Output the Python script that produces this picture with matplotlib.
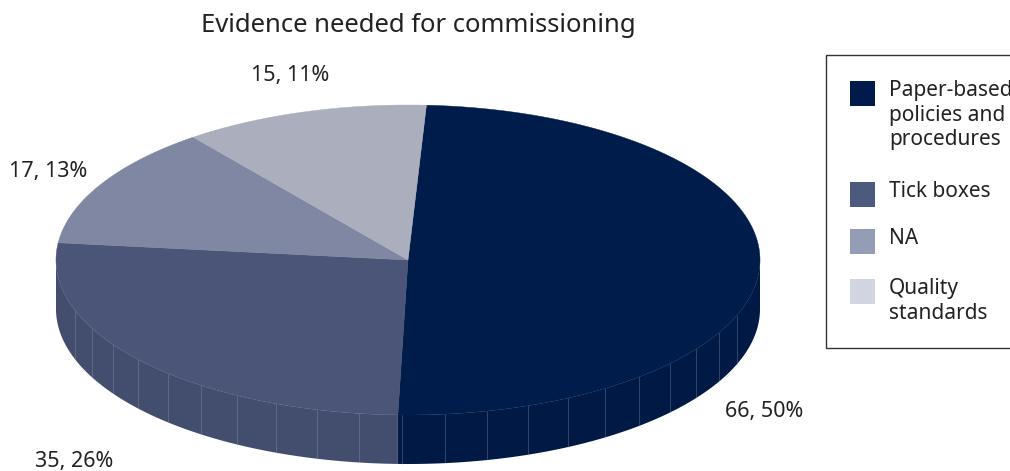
import matplotlib.pyplot as plt
import numpy as np
from matplotlib.patches import Polygon, Rectangle

plt.rcParams['font.family'] = ['Noto Sans', 'DejaVu Sans']

# data
categories = ['Paper-based\npolicies and\nprocedures', 'Tick boxes', 'NA', 'Quality\nstandards']
counts = [66, 35, 17, 15]
percents = [50, 26, 13, 11]
top_colors = ['#001C4B', '#4A5577', '#7F87A3', '#ABAEBD']
side_colors = ['#001A45', '#434D6E', '#737A96', '#9C9FAE']
legend_colors = ['#001A4B', '#4B5A7E', '#959CB6', '#D1D5E1']

# layout (pixel coords)
cx, cy = 408, 260
rx, ry = 352, 155
depth = 49
start_angle = 87.0
label_pos = [(764, 412), (74, 461), (48, 172), (290, 75)]

fig = plt.figure(figsize=(10.10, 4.71), dpi=100)
ax = fig.add_axes([0, 0, 1, 1])
ax.set_xlim(0, 1010)
ax.set_ylim(471, 0)
ax.axis('off')


def pt(a, dy=0.0):
    r = np.radians(a)
    return cx + rx * np.cos(r), cy - ry * np.sin(r) + dy


total = sum(counts)
bounds = [start_angle]
for c in counts:
    bounds.append(bounds[-1] - 360.0 * c / total)

# side walls (front half only)
for i in range(len(counts)):
    a0, a1 = bounds[i], bounds[i + 1]
    for shift in (0, -360):
        lo = max(a1 - shift, -180)
        hi = min(a0 - shift, 0)
        if hi <= lo:
            continue
        angs = np.linspace(hi, lo, 200)
        top = [pt(a) for a in angs]
        bot = [pt(a, depth) for a in angs[::-1]]
        ax.add_patch(Polygon(top + bot, closed=True, facecolor=side_colors[i],
                             edgecolor='none', zorder=1))
        # faint facet lines on the wall
        for a in np.arange(np.ceil(lo / 7) * 7, hi, 7):
            if -165 < a < -15:
                x0, y0 = pt(a)
                ax.plot([x0, x0], [y0, y0 + depth], color='#9AA2BC',
                        lw=0.5, alpha=0.45, zorder=2)

# top wedges
for i in range(len(counts)):
    angs = np.linspace(bounds[i], bounds[i + 1], 300)
    verts = [(cx, cy)] + [pt(a) for a in angs]
    ax.add_patch(Polygon(verts, closed=True, facecolor=top_colors[i],
                         edgecolor=top_colors[i], lw=0.3, zorder=3))

# data labels
for (x, y), c, p in zip(label_pos, counts, percents):
    ax.text(x, y, f'{c}, {p}%', ha='center', va='center', fontsize=15.5,
            color='#222222')

ax.text(418, 26, 'Evidence needed for commissioning', ha='center', va='center',
        fontsize=18.5, color='#222222')

# legend box
ax.add_patch(Rectangle((826, 55), 200, 293, facecolor='white',
                       edgecolor='#333333', lw=1, zorder=4))
leg_y = [93, 194, 241, 291]
for y, lab, col in zip(leg_y, categories, legend_colors):
    ax.add_patch(Rectangle((850, y - 12), 25, 25, facecolor=col,
                           edgecolor='none', zorder=5))
    ax.text(889, y - 13, lab, ha='left', va='top', fontsize=15,
            color='#222222', linespacing=1.22, zorder=5)

fig.savefig('out.png', dpi=100)
